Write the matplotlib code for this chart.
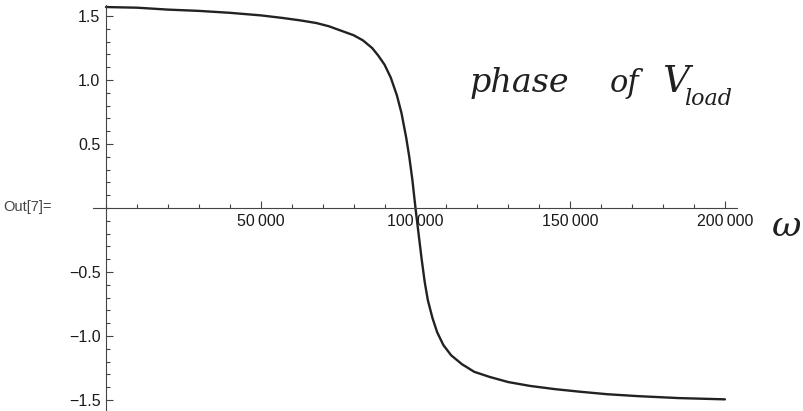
import numpy as np
import matplotlib.pyplot as plt
from matplotlib.ticker import MultipleLocator, FixedLocator

# Phase of V_load against angular frequency
omega = [0, 10000, 20000, 30000, 40000, 50000, 57000, 63000, 68000, 72000,
         76000, 80000, 83000, 86000, 88000, 90000, 92000, 94000, 95500,
         97000, 98000, 99000, 100000, 101000, 102000, 103000, 104000,
         105500, 107000, 109000, 111500, 115000, 119000, 124000, 130000,
         137000, 145000, 153000, 162000, 172000, 185000, 200000]
phase = [1.57, 1.565, 1.55, 1.54, 1.525, 1.505, 1.485, 1.465, 1.445, 1.42,
         1.385, 1.35, 1.31, 1.25, 1.19, 1.12, 1.02, 0.88, 0.74,
         0.55, 0.40, 0.22, 0.0, -0.20, -0.40, -0.58, -0.72,
         -0.86, -0.97, -1.07, -1.15, -1.22, -1.28, -1.32, -1.36,
         -1.39, -1.415, -1.435, -1.455, -1.47, -1.485, -1.495]

x_ticks = [50000, 100000, 150000, 200000]
x_labels = ["50\u2009000", "100\u2009000", "150\u2009000", "200\u2009000"]
y_ticks = [-1.5, -1.0, -0.5, 0.5, 1.0, 1.5]
y_labels = ["\u22121.5", "\u22121.0", "\u22120.5", "0.5", "1.0", "1.5"]

plt.rcParams['font.family'] = ['Liberation Sans', 'DejaVu Sans']

fig = plt.figure(figsize=(8.04, 4.11), dpi=100)
ax = fig.add_axes([93 / 804, 0.0, 644 / 804, 406 / 411])

ax.plot(omega, phase, color="#222222", linewidth=1.7,
        solid_capstyle="round", solid_joinstyle="round")

ax.set_xlim(-4200, 203900)
ax.set_ylim(-1.586, 1.586)

# Axes through the origin, Mathematica style
for side in ["top", "right"]:
    ax.spines[side].set_visible(False)
ax.spines["left"].set_position(("data", 0))
ax.spines["bottom"].set_position(("data", 0))
for side in ["left", "bottom"]:
    ax.spines[side].set_color("#444444")
    ax.spines[side].set_linewidth(0.8)

ax.xaxis.set_major_locator(FixedLocator(x_ticks))
ax.set_xticklabels(x_labels)
ax.xaxis.set_minor_locator(MultipleLocator(10000))
ax.yaxis.set_major_locator(FixedLocator(y_ticks))
ax.set_yticklabels(y_labels)
ax.yaxis.set_minor_locator(MultipleLocator(0.1))

ax.tick_params(which="both", direction="in", color="#444444", width=0.8,
               labelsize=11.5, labelcolor="#1a1a1a")
ax.tick_params(which="major", length=5)
ax.tick_params(which="minor", length=3)
ax.tick_params(axis="y", pad=4)
ax.tick_params(axis="x", pad=4)

ax.patch.set_alpha(0)

# Notebook output label
fig.text(3 / 804, 1 - 207 / 411, "Out[7]=", fontsize=10.5, color="#444444",
         ha="left", va="center")

# Hand-written notes
note_font = ["DejaVu Serif"]
note_kw = dict(style="italic", family=note_font, color="#202020",
               ha="left", va="baseline")
fig.text(470 / 804, 1 - 92 / 411, "phase", fontsize=24, **note_kw)
fig.text(610 / 804, 1 - 92 / 411, "of", fontsize=22, **note_kw)
fig.text(662 / 804, 1 - 92 / 411, "V", fontsize=27, **note_kw)
fig.text(684 / 804, 1 - 105 / 411, "load", fontsize=16, **note_kw)
fig.text(772 / 804, 1 - 226 / 411, "\u03c9", fontsize=26, style="italic",
         family=note_font, color="#202020", ha="left", va="center")

fig.savefig("out.png", dpi=100)
